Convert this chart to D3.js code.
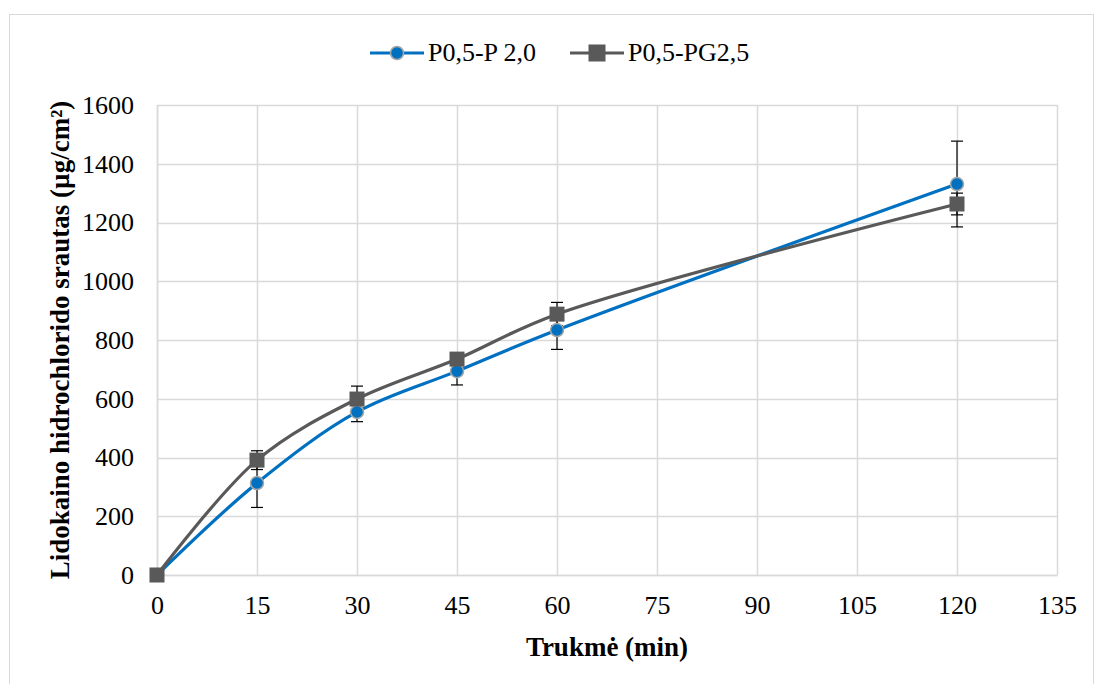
<!DOCTYPE html>
<html>
<head>
<meta charset="utf-8">
<script src="https://cdn.jsdelivr.net/npm/d3@7"></script>
<style>
  body { margin: 0; background: #fff; }
  svg { display: block; }
</style>
</head>
<body>
<svg></svg>
<script>
var minutes = [0, 15, 30, 45, 60, 120];
var seriesNames = ["P0,5-P 2,0", "P0,5-PG2,5"];
var valuesP = [0, 313, 555, 694, 834, 1331];
var errorsP = [0, 83, 33, 47, 66, 146];
var valuesPG = [0, 391, 599, 735, 888, 1263];
var errorsPG = [0, 32, 44, 20, 40, 37];
var xTicks = [0, 15, 30, 45, 60, 75, 90, 105, 120, 135];
var yTicks = [0, 200, 400, 600, 800, 1000, 1200, 1400, 1600];

var width = 1095, height = 684;
var margin = { left: 157, right: 38, top: 105, bottom: 109 };
var serif = '"Times New Roman", "Liberation Serif", serif';

var svg = d3.select('svg')
  .attr('width', width)
  .attr('height', height)
  .attr('font-family', serif);

// outer chart frame
svg.append('rect')
  .attr('x', 9.5).attr('y', 14.5)
  .attr('width', 1084).attr('height', 700)
  .attr('fill', '#fff')
  .attr('stroke', '#d9d9d9');

var x = d3.scaleLinear().domain([0, 135]).range([margin.left, width - margin.right]);
var y = d3.scaleLinear().domain([0, 1600]).range([height - margin.bottom, margin.top]);

// gridlines
svg.append('g')
  .selectAll('line')
  .data(yTicks)
  .enter().append('line')
  .attr('x1', x(0)).attr('x2', x(135))
  .attr('y1', function (d) { return Math.round(y(d)) + 0.5; })
  .attr('y2', function (d) { return Math.round(y(d)) + 0.5; })
  .attr('stroke', '#d9d9d9').attr('stroke-width', 1.5);

svg.append('g')
  .selectAll('line')
  .data(xTicks)
  .enter().append('line')
  .attr('y1', y(0)).attr('y2', y(1600))
  .attr('x1', function (d) { return Math.round(x(d)) + 0.5; })
  .attr('x2', function (d) { return Math.round(x(d)) + 0.5; })
  .attr('stroke', '#d9d9d9').attr('stroke-width', 1.5);

// axes (labels only, Excel style)
var xAxis = svg.append('g')
  .attr('transform', 'translate(0,' + y(0) + ')')
  .call(d3.axisBottom(x).tickValues(xTicks).tickSize(0).tickPadding(21).tickFormat(d3.format('d')))
  .attr('font-family', serif).attr('font-size', 26);
xAxis.select('.domain').attr('stroke', '#d9d9d9').attr('stroke-width', 1.5);
xAxis.selectAll('text').attr('fill', '#000');

var yAxis = svg.append('g')
  .attr('transform', 'translate(' + x(0) + ',0)')
  .call(d3.axisLeft(y).tickValues(yTicks).tickSize(0).tickPadding(23).tickFormat(d3.format('d')))
  .attr('font-family', serif).attr('font-size', 26);
yAxis.select('.domain').attr('stroke', '#d9d9d9').attr('stroke-width', 1.5);
yAxis.selectAll('text').attr('fill', '#000');

// axis titles
svg.append('text')
  .attr('x', x(67.5)).attr('y', 656)
  .attr('text-anchor', 'middle')
  .attr('font-size', 27).attr('font-weight', 'bold')
  .text('Trukmė (min)');

svg.append('text')
  .attr('transform', 'translate(69,' + y(800) + ') rotate(-90)')
  .attr('text-anchor', 'middle')
  .attr('font-size', 27).attr('font-weight', 'bold')
  .text('Lidokaino hidrochlorido srautas (µg/cm²)');

var series = [
  { name: seriesNames[0], values: valuesP, errors: errorsP, color: '#0070c0', marker: 'circle' },
  { name: seriesNames[1], values: valuesPG, errors: errorsPG, color: '#595959', marker: 'square' }
];

var line = d3.line()
  .x(function (d) { return x(d[0]); })
  .y(function (d) { return y(d[1]); })
  .curve(d3.curveCatmullRom.alpha(0.5));

series.forEach(function (s) {
  var pts = minutes.map(function (m, i) { return [m, s.values[i]]; });
  svg.append('path')
    .attr('d', line(pts))
    .attr('fill', 'none')
    .attr('stroke', s.color)
    .attr('stroke-width', 3.2);
});

// error bars
series.forEach(function (s) {
  var g = svg.append('g');
  minutes.forEach(function (m, i) {
    if (!s.errors[i]) return;
    var cx = x(m);
    var y1 = y(s.values[i] - s.errors[i]), y2 = y(s.values[i] + s.errors[i]);
    g.append('line').attr('x1', cx).attr('x2', cx).attr('y1', y1).attr('y2', y2)
      .attr('stroke', '#000').attr('stroke-width', 1.2);
    [y1, y2].forEach(function (yy) {
      g.append('line').attr('x1', cx - 6).attr('x2', cx + 6).attr('y1', yy).attr('y2', yy)
        .attr('stroke', '#000').attr('stroke-width', 1.2);
    });
  });
});

function drawMarker(g, s, cx, cy, size) {
  if (s.marker === 'circle') {
    g.append('circle').attr('cx', cx).attr('cy', cy).attr('r', size / 2 - 1)
      .attr('fill', s.color).attr('stroke', '#a6a6a6').attr('stroke-width', 1.5);
  } else {
    g.append('rect').attr('x', cx - size / 2).attr('y', cy - size / 2).attr('width', size).attr('height', size)
      .attr('fill', s.color);
  }
}

series.forEach(function (s) {
  var g = svg.append('g');
  minutes.forEach(function (m, i) {
    drawMarker(g, s, x(m), y(s.values[i]), 15);
  });
});

// legend
var legendX = [370, 570];
series.forEach(function (s, i) {
  var g = svg.append('g').attr('transform', 'translate(' + legendX[i] + ',53)');
  g.append('line').attr('x1', 0).attr('x2', 54).attr('y1', 0).attr('y2', 0)
    .attr('stroke', s.color).attr('stroke-width', 3.2);
  drawMarker(g, s, 27, 0, s.marker === 'square' ? 17 : 15);
  g.append('text').attr('x', 58).attr('y', 8)
    .attr('font-size', 26).text(s.name);
});
</script>
</body>
</html>
